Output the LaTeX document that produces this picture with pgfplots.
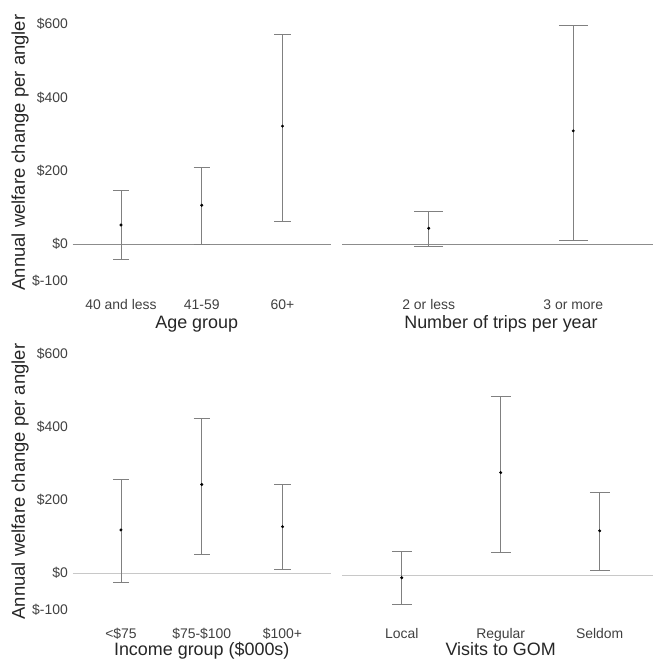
\documentclass[border=0pt]{standalone}
\usepackage{fontspec}
\setmainfont{Liberation Sans}
\usepackage{pgfplots}
\pgfplotsset{compat=1.18}

\definecolor{barcol}{RGB}{128,128,128}
\definecolor{zerodark}{RGB}{140,140,140}
\definecolor{zerolight}{RGB}{200,200,200}

\pgfplotsset{
  panel/.style={
    scale only axis,
    height=282bp,
    ymin=-135, ymax=635,
    axis line style={draw=none},
    major tick length=0pt,
    ytick={-100,0,200,400,600},
    yticklabels={},
    xtick=data,
    clip=false,
    /pgf/number format/assume math mode=true,
    tick label style={font=\fontsize{14}{16}\selectfont, text=black!75},
    xticklabel style={anchor=base, inner sep=0pt, yshift=-16.5bp},
    yticklabel style={anchor=east, inner sep=0pt, xshift=-4.5bp},
    every axis x label/.style={at={(axis description cs:0.5,0)}, anchor=base,
      yshift=-35bp, font=\fontsize{18}{20}\selectfont, text=black!85},
    every axis y label/.style={at={(axis description cs:0,0.5)}, anchor=center,
      rotate=90, yshift=52.5bp, font=\fontsize{18.5}{20}\selectfont, text=black!85},
  },
  leftpanel/.style={panel, yticklabels={\$-100,\$0,\$200,\$400,\$600},
    ylabel={Annual welfare change per angler}},
  lowrow/.style={
    xticklabel style={yshift=1bp},
    every axis x label/.append style={yshift=2.5bp},
  },
  bars/.style={
    only marks, mark=*, mark size=1.3bp, color=black,
    error bars/.cd, y dir=both, y explicit,
    error bar style={color=barcol, line width=0.7bp},
    error mark options={rotate=90, color=barcol, line width=0.7bp, mark size=#1},
  },
}

\begin{document}
\begin{tikzpicture}
\path[use as bounding box] (0bp,0bp) rectangle (653bp,661bp);

% Age group
\begin{axis}[leftpanel, at={(72.5bp,367.5bp)}, anchor=south west, width=258.5bp,
  xmin=0.4, xmax=3.6, xticklabels={40 and less,41-59,60+}, xlabel={Age group},
  every axis x label/.append style={xshift=-5bp}]
  \draw[zerodark, line width=0.7bp] (axis cs:0.4,0) -- (axis cs:3.6,0);
  \addplot[bars=8.1bp] coordinates {
    (1,52) += (0,94) -= (0,95)
    (2,106) += (0,103) -= (0,107)
    (3,322) += (0,250) -= (0,259)
  };
\end{axis}

% Number of trips
\begin{axis}[panel, at={(342bp,367.5bp)}, anchor=south west, width=318bp,
  xmin=0.4, xmax=2.6, xticklabels={2 or less,3 or more}, xlabel={Number of trips per year}]
  \draw[zerodark, line width=0.7bp] (axis cs:0.4,0) -- (axis cs:2.6,0);
  \addplot[bars=14.4bp] coordinates {
    (1,43) += (0,46) -= (0,48)
    (2,309) += (0,289) -= (0,299)
  };
\end{axis}

% Income group
\begin{axis}[leftpanel, lowrow, at={(72.5bp,38.4bp)}, anchor=south west, width=258.5bp,
  xmin=0.4, xmax=3.6, xticklabels={<\$75,\$75-\$100,\$100+}, xlabel={Income group (\$000s)}]
  \draw[zerolight, line width=0.7bp] (axis cs:0.4,0) -- (axis cs:3.6,0);
  \addplot[bars=8.1bp] coordinates {
    (1,118) += (0,139) -= (0,144)
    (2,242) += (0,181) -= (0,191)
    (3,127) += (0,115) -= (0,117)
  };
\end{axis}

% Visits to GOM
\begin{axis}[panel, lowrow, at={(342.3bp,36.4bp)}, anchor=south west, width=316.8bp,
  xmin=0.4, xmax=3.6, xticklabels={Local,Regular,Seldom}, xlabel={Visits to GOM},
  xticklabel style={yshift=2bp}, every axis x label/.append style={yshift=2bp}]
  \draw[zerolight, line width=0.7bp] (axis cs:0.4,0) -- (axis cs:3.6,0);
  \addplot[bars=9.9bp] coordinates {
    (1,-7) += (0,71) -= (0,72)
    (2,280) += (0,208) -= (0,218)
    (3,121) += (0,106) -= (0,109)
  };
\end{axis}
\end{tikzpicture}
\end{document}
